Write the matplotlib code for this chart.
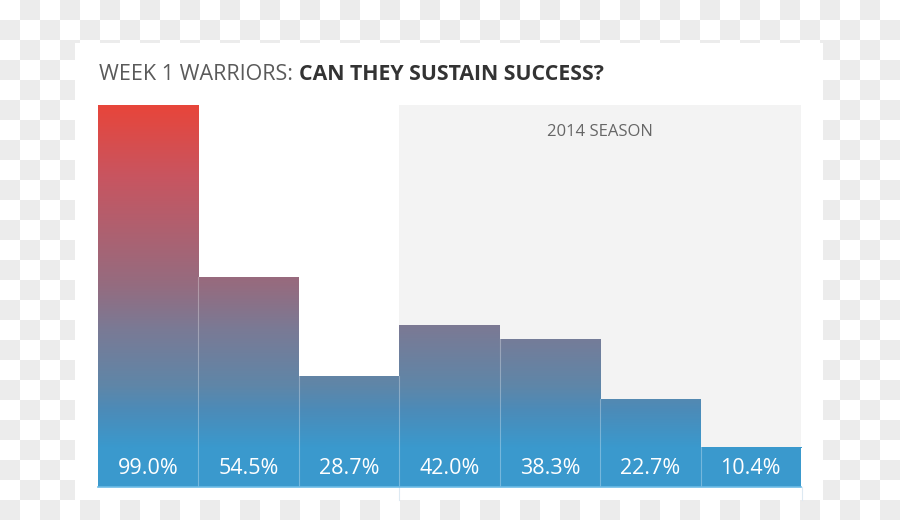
"""Week 1 warriors bar chart: gradient bars with a shaded 2014 season panel."""
import matplotlib
matplotlib.use("Agg")
import matplotlib.pyplot as plt
import numpy as np
from matplotlib.colors import LinearSegmentedColormap
from matplotlib.patches import Rectangle

plt.rcParams["font.family"] = ["Open Sans", "DejaVu Sans"]

# data
values = [99.0, 54.5, 28.7, 42.0, 38.3, 22.7, 10.4]
value_labels = ["99.0%", "54.5%", "28.7%", "42.0%", "38.3%", "22.7%", "10.4%"]
season_start = 3  # first bar inside the "2014 SEASON" panel
season_label = "2014 SEASON"
title_light = "WEEK 1 WARRIORS: "
title_bold = "CAN THEY SUSTAIN SUCCESS?"

W, H = 900, 520
fig = plt.figure(figsize=(W / 100, H / 100), dpi=100)


def px_rect(x0, y0, x1, y1):
    """pixel box (top-left origin) -> figure fraction rect"""
    return [x0 / W, 1 - y1 / H, (x1 - x0) / W, (y1 - y0) / H]


# transparency checkerboard behind the card
bg = fig.add_axes([0, 0, 1, 1])
rows, cols = np.indices((H // 20 + 1, W // 20 + 1))
checker = (rows + cols) % 2
bg.imshow(checker, cmap=LinearSegmentedColormap.from_list("chk", ["#ffffff", "#ececec"]),
          extent=(0, (W // 20 + 1) * 20, (H // 20 + 1) * 20, 0), interpolation="nearest")
bg.set_xlim(0, W)
bg.set_ylim(H, 0)
bg.axis("off")

# white card
bg.add_patch(Rectangle((75, 43), 748, 457, facecolor="white", edgecolor="none"))

ax = fig.add_axes(px_rect(98, 105, 801, 487))
n = len(values)
ax.set_xlim(-0.5, n - 0.5)
ax.set_ylim(0, max(values))
ax.axis("off")

# grey season panel
ax.add_patch(Rectangle((season_start - 0.5, 0), n - season_start, max(values),
                       facecolor="#f3f3f3", edgecolor="none", zorder=0))

cmap = LinearSegmentedColormap.from_list("redblue", [
    (0.0, "#3a99cd"), (0.11, "#4c8bb8"), (0.18, "#5f86a8"), (0.345, "#7a7a95"),
    (0.47, "#946c80"), (0.79, "#c85560"), (1.0, "#e8453a")])
grad = np.linspace(0, 1, 256).reshape(-1, 1)
bars = ax.bar(range(n), values, width=1.0, color="none", edgecolor="none", zorder=2)
for b in bars:
    im = ax.imshow(grad, cmap=cmap, origin="lower", aspect="auto",
                   extent=(-0.5, n - 0.5, 10, max(values)), zorder=2)
    im.set_clip_path(b)
# the gradient stops around 10%, below that plain blue
ax.bar(range(n), [min(v, 10) for v in values], width=1.0, color="#3a99cd", zorder=2)

# thin light separators between bars
for i in range(1, n):
    ax.plot([i - 0.5, i - 0.5], [0, min(values[i - 1], values[i])],
            color="white", alpha=0.3, lw=0.8, zorder=3)
ax.plot([-0.5, n - 0.5], [0, 0], color="#6cbbe6", lw=1.2, zorder=3, clip_on=False)

for i, lab in enumerate(value_labels):
    ax.annotate(lab, xy=(i, 0), xytext=(0, 13.5), textcoords="offset points",
                ha="center", va="center", color="white", fontsize=15.5, zorder=4)

ax.text((season_start - 0.5 + n - 0.5) / 2, 0.93 * max(values), season_label,
        ha="center", va="center", color="#666666", fontsize=12, zorder=1)

# panel borders continue below the bars
for x in (398.5, 802):
    bg.plot([x, x], [487, 500], color="#dde9f2", lw=0.8)

t1 = fig.text(99 / W, 1 - 75 / H, title_light, ha="left", va="center",
              color="#5a5a5a", fontsize=15.5)
ax.annotate(title_bold, xy=(1, 0.5), xycoords=t1, ha="left", va="center",
            fontsize=15.3, fontweight="bold", color="#333333")

fig.savefig("out.png", dpi=100)
